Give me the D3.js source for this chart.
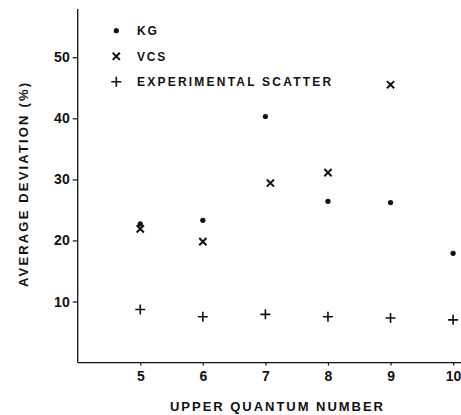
<!DOCTYPE html>
<html>
<head>
<meta charset="utf-8">
<script src="https://cdn.jsdelivr.net/npm/d3@7"></script>
<style>
  html, body { margin: 0; padding: 0; background: #fff; }
  svg { display: block; }
  text { font-family: "Liberation Sans", Arial, sans-serif; font-weight: bold; fill: #111; }
</style>
</head>
<body>
<svg id="chart" width="461" height="415"></svg>
<script>
// Average deviation (%) per upper quantum number for each method
const kgN   = [5, 6, 7, 8, 9, 10];
const kgVal = [22.7, 23.3, 40.3, 26.4, 26.2, 17.9];

const vcsN   = [5, 6, 7.08, 8, 9];
const vcsVal = [21.9, 19.8, 29.4, 31.1, 45.5];

const expN   = [5, 6, 7, 8, 9, 10];
const expVal = [8.7, 7.5, 7.9, 7.5, 7.3, 7.0];

const xTicks = [5, 6, 7, 8, 9, 10];
const yTicks = [10, 20, 30, 40, 50];

const legendLabels = ["KG", "VCS", "EXPERIMENTAL SCATTER"];

const svg = d3.select("#chart");
const ink = "#111";

const x = d3.scaleLinear().domain([4, 10.35]).range([77.7, 475]);
const y = d3.scaleLinear().domain([0, 57.9]).range([362.6, 9]);

// axes
const xAxis = d3.axisBottom(x).tickValues(xTicks).tickSize(3).tickPadding(5).tickFormat(d3.format("d"));
const yAxis = d3.axisLeft(y).tickValues(yTicks).tickSize(5).tickPadding(3).tickFormat(d3.format("d"));

const gx = svg.append("g").attr("transform", `translate(0,${y(0)})`).call(xAxis);
const gy = svg.append("g").attr("transform", `translate(${x(4)},0)`).call(yAxis);

[gx, gy].forEach(g => {
  g.select(".domain").attr("stroke", ink).attr("stroke-width", 1.3);
  g.selectAll(".tick line").attr("stroke", ink).attr("stroke-width", 1.2);
  g.selectAll(".tick text")
    .attr("fill", ink)
    .style("font-family", "'Liberation Sans', Arial, sans-serif")
    .style("font-weight", "bold")
    .style("font-size", "14px");
});
gx.select(".domain").attr("d", `M${x(4)},0H461`);
gy.select(".domain").attr("d", `M0,${y(0)}V${y.range()[1]}`);

// axis titles
svg.append("text")
  .attr("x", 276.5).attr("y", 411)
  .attr("text-anchor", "middle")
  .attr("textLength", 213).attr("lengthAdjust", "spacing")
  .style("font-size", "13px")
  .text("UPPER QUANTUM NUMBER");

svg.append("text")
  .attr("transform", "translate(28,185) rotate(-90)")
  .attr("text-anchor", "middle")
  .attr("textLength", 204).attr("lengthAdjust", "spacing")
  .style("font-size", "13px")
  .text("AVERAGE DEVIATION (%)");

// marker shapes
function drawDot(g, cx, cy) {
  g.append("circle").attr("cx", cx).attr("cy", cy).attr("r", 2.6).attr("fill", ink);
}
function drawCross(g, cx, cy) {
  const s = 3.6;
  g.append("path")
    .attr("d", `M${cx - s},${cy - s}L${cx + s},${cy + s}M${cx - s},${cy + s}L${cx + s},${cy - s}`)
    .attr("stroke", ink).attr("stroke-width", 2).attr("fill", "none");
}
function drawPlus(g, cx, cy) {
  const s = 5;
  g.append("path")
    .attr("d", `M${cx - s},${cy}H${cx + s}M${cx},${cy - s}V${cy + s}`)
    .attr("stroke", ink).attr("stroke-width", 1.6).attr("fill", "none");
}

const marks = svg.append("g");
expN.forEach((n, i) => drawPlus(marks, x(n), y(expVal[i])));
vcsN.forEach((n, i) => drawCross(marks, x(n), y(vcsVal[i])));
kgN.forEach((n, i) => drawDot(marks, x(n), y(kgVal[i])));

// legend
const legend = svg.append("g");
const drawers = [drawDot, drawCross, drawPlus];
const rowY = [30.7, 56.3, 81.7];
legendLabels.forEach((label, i) => {
  drawers[i](legend, 116.3, rowY[i]);
  const t = legend.append("text")
    .attr("x", 137).attr("y", rowY[i] + 4.3)
    .style("font-size", "12px")
    .style("letter-spacing", "1.8px")
    .text(label);
  if (label.length > 10) t.attr("textLength", 196).attr("lengthAdjust", "spacing");
});
</script>
</body>
</html>
